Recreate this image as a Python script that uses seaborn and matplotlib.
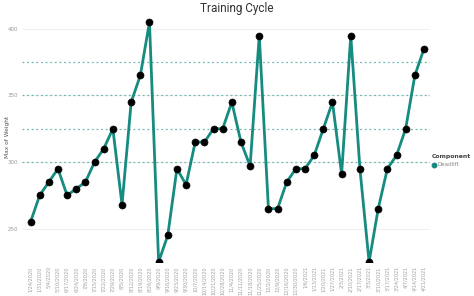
import matplotlib
matplotlib.use("Agg")
import matplotlib.pyplot as plt
import seaborn as sns
import pandas as pd

dates = ["1/24/2020", "1/31/2020", "5/4/2020", "5/10/2020", "6/17/2020", "6/24/2020",
         "7/8/2020", "7/15/2020", "7/22/2020", "7/29/2020", "8/5/2020", "8/12/2020",
         "8/19/2020", "8/26/2020", "9/9/2020", "9/16/2020", "9/23/2020", "9/30/2020",
         "10/7/2020", "10/14/2020", "10/21/2020", "10/28/2020", "11/4/2020", "11/11/2020",
         "11/18/2020", "11/25/2020", "12/2/2020", "12/9/2020", "12/16/2020", "12/30/2020",
         "1/6/2021", "1/13/2021", "1/20/2021", "1/27/2021", "2/3/2021", "2/10/2021",
         "2/17/2021", "3/3/2021", "3/10/2021", "3/17/2021", "3/24/2021", "4/7/2021",
         "4/14/2021", "4/21/2021"]
weights = [255, 275, 285, 295, 275, 280, 285, 300, 310, 325, 268, 345,
           365, 405, 225, 245, 295, 283, 315, 315, 325, 325, 345, 315,
           297, 395, 265, 265, 285, 295, 295, 305, 325, 345, 291, 395,
           295, 225, 265, 295, 305, 325, 365, 385]
component = ["Deadlift"] * len(weights)
ref_lines = [300, 325, 350, 375]
y_ticks = [250, 300, 350, 400]

df = pd.DataFrame({"Date": dates, "Weight": weights, "Component": component})
df["pos"] = range(len(df))

teal = "#168b7f"
sns.set_theme(style="white")
plt.rcParams['font.family'] = ['DejaVu Sans']

fig = plt.figure(figsize=(4.74, 2.96), dpi=100)
ax = fig.add_axes([0.047, 0.115, 0.860, 0.828])

for v in y_ticks:
    ax.axhline(v, color="#ececec", lw=0.6, zorder=0)
for v in ref_lines:
    ax.axhline(v, color="#6fb8b3", lw=0.9, ls=(0, (1.5, 2.2)), zorder=1)

sns.lineplot(data=df, x="pos", y="Weight", hue="Component", palette=[teal],
             linewidth=2.0, legend=False, ax=ax, zorder=2)
sns.scatterplot(data=df, x="pos", y="Weight", color="black", s=26,
                edgecolor="black", legend=False, ax=ax, zorder=3, clip_on=True)

ax.set_xlim(-0.9, 43.65)
ax.set_ylim(225, 409)
ax.set_yticks(y_ticks)
ax.set_yticklabels([str(v) for v in y_ticks], fontsize=4, color="#999999")
ax.set_xticks(df["pos"])
ax.set_xticklabels(df["Date"], rotation=90, fontsize=3.6, color="#a0a0a0")
ax.tick_params(axis="both", length=0, pad=3)
ax.set_xlabel("")
ax.set_ylabel("")
for s in ax.spines.values():
    s.set_visible(False)

fig.text(0.016, 0.537, "Max of Weight", rotation=90, ha="center", va="center",
         fontsize=4.2, color="#555555")

fig.text(0.5, 0.972, "Training Cycle", ha="center", va="center",
         fontsize=8.5, color="#333333", family="Roboto")

fig.text(0.911, 0.47, "Component", ha="left", va="center", fontsize=4.4,
         fontweight="bold", color="#444444")
fig.lines.append(matplotlib.lines.Line2D([0.915], [0.443], marker="o", color=teal,
                                         markersize=3.2, transform=fig.transFigure))
fig.text(0.922, 0.443, "Deadlift", ha="left", va="center", fontsize=4,
         color="#888888")

fig.savefig("out.png", dpi=100)
